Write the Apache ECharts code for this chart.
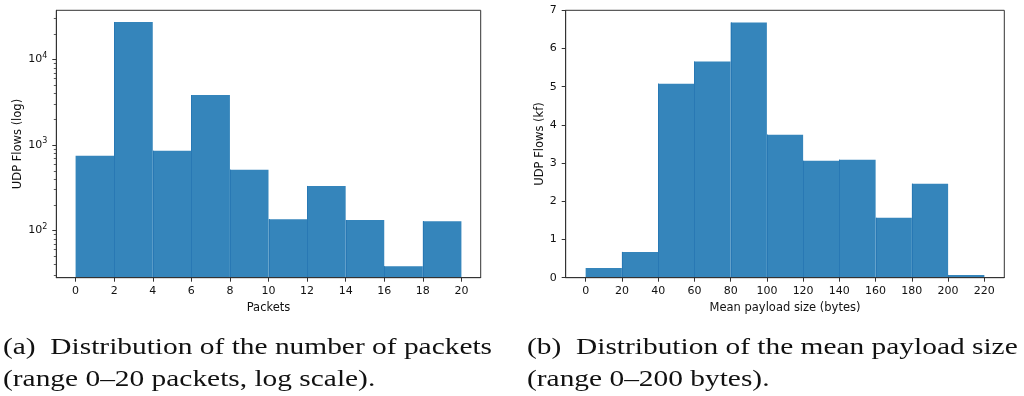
<!DOCTYPE html>
<html>
<head>
<meta charset="utf-8">
<title>UDP flow distributions</title>
<script src="https://cdn.jsdelivr.net/npm/echarts@6/dist/echarts.min.js"></script>
<style>
  html, body { margin: 0; padding: 0; background: #fff; }
  #chart { width: 1024px; height: 396px; }
</style>
</head>
<body>
<div id="chart"></div>
<script>
// (a) number of packets per UDP flow, bins of width 2 (counts, log scale)
const packetBinEdges = [0, 2, 4, 6, 8, 10, 12, 14, 16, 18, 20];
const packetCounts = [743, 27300, 851, 3820, 511, 135, 330, 132, 38, 128];
const packetTicks = [0, 2, 4, 6, 8, 10, 12, 14, 16, 18, 20];
const packetMajorTicks = [100, 1000, 10000];
const packetMinorTicks = [30, 40, 50, 60, 70, 80, 90,
  200, 300, 400, 500, 600, 700, 800, 900,
  2000, 3000, 4000, 5000, 6000, 7000, 8000, 9000,
  20000, 30000];

// (b) mean payload size per UDP flow, bins of width 20 bytes (thousands of flows)
const payloadBinEdges = [0, 20, 40, 60, 80, 100, 120, 140, 160, 180, 200, 220];
const payloadCounts = [0.255, 0.675, 5.08, 5.66, 6.68, 3.745, 3.06, 3.09, 1.567, 2.46, 0.07];
const payloadTicks = [0, 20, 40, 60, 80, 100, 120, 140, 160, 180, 200, 220];

const captionA = ['(a)  Distribution of the number of packets', '(range 0–20 packets, log scale).'];
const captionB = ['(b)  Distribution of the mean payload size', '(range 0–200 bytes).'];

const X_MIN_A = -1, X_MAX_A = 21;
const LOG_MIN = 27.9, LOG_MAX = 37400;
const BAR_FILL = '#3585bb';
const BAR_SEAM = '#2878b4';

function toBins(edges, counts) {
  return counts.map((c, i) => [edges[i], edges[i + 1], c]);
}

// one rectangle per bin, with a thin darker seam on the left edge of every bin after the first
function histRenderer(baseValue) {
  return function (params, api) {
    const top = api.coord([api.value(0), api.value(2)]);
    const bottom = api.coord([api.value(1), baseValue]);
    const children = [{
      type: 'rect',
      shape: { x: top[0], y: top[1], width: bottom[0] - top[0], height: bottom[1] - top[1] },
      style: { fill: BAR_FILL }
    }];
    if (params.dataIndex > 0) {
      const sx = Math.round(top[0]) + 0.5;
      children.push({
        type: 'line',
        shape: { x1: sx, y1: top[1], x2: sx, y2: bottom[1] },
        style: { stroke: BAR_SEAM, lineWidth: 1 }
      });
    }
    return { type: 'group', children: children };
  };
}

// short outward minor ticks on the log axis, placed through the axis scale
function minorTickRenderer(params, api) {
  const p = api.coord([X_MIN_A, api.value(1)]);
  const y = Math.round(p[1]) + 0.5;
  return {
    type: 'line',
    shape: { x1: p[0] - 2.5, y1: y, x2: p[0], y2: y },
    style: { stroke: '#333', lineWidth: 0.8 }
  };
}

const tickFont = { fontFamily: 'DejaVu Sans', fontSize: 11, color: '#111' };
const nameFont = { fontFamily: 'DejaVu Sans', fontSize: 11.5, color: '#111' };
const spine = { show: true, onZero: false, lineStyle: { color: '#333', width: 1 } };
const tick = { show: true, length: 4, lineStyle: { color: '#333', width: 1 } };

function captionLines(lines, x) {
  return lines.map((t, i) => ({
    type: 'text', x: x, y: 348 + i * 32, scaleX: 1.225,
    style: { text: t, fontFamily: 'Liberation Serif', fontSize: 24, fill: '#111',
             align: 'left', verticalAlign: 'middle' }
  }));
}

const chart = echarts.init(document.getElementById('chart'), null, { renderer: 'canvas' });

chart.setOption({
  animation: false,
  backgroundColor: '#fff',
  graphic: captionLines(captionA, 3).concat(captionLines(captionB, 527)),
  grid: [
    { left: 56.3, top: 10.3, width: 424.4, height: 267.4, show: true, borderColor: '#333', borderWidth: 1, backgroundColor: 'transparent' },
    { left: 565.7, top: 10.3, width: 438.6, height: 267.4, show: true, borderColor: '#333', borderWidth: 1, backgroundColor: 'transparent' }
  ],
  xAxis: [
    { type: 'value', gridIndex: 0, min: X_MIN_A, max: X_MAX_A, z: 5,
      name: 'Packets', nameLocation: 'middle', nameGap: 24, nameTextStyle: nameFont,
      axisLine: spine, splitLine: { show: false },
      axisTick: Object.assign({ customValues: packetTicks }, tick),
      axisLabel: Object.assign({ customValues: packetTicks, margin: 8 }, tickFont) },
    { type: 'value', gridIndex: 1, min: -11, max: 231, z: 5,
      name: 'Mean payload size (bytes)', nameLocation: 'middle', nameGap: 24, nameTextStyle: nameFont,
      axisLine: spine, splitLine: { show: false },
      axisTick: Object.assign({ customValues: payloadTicks }, tick),
      axisLabel: Object.assign({ customValues: payloadTicks, margin: 8 }, tickFont) }
  ],
  yAxis: [
    { type: 'log', logBase: 10, gridIndex: 0, position: 'left', min: LOG_MIN, max: LOG_MAX, z: 5,
      name: 'UDP Flows (log)', nameLocation: 'middle', nameGap: 32, nameTextStyle: nameFont,
      axisLine: spine, splitLine: { show: false }, minorTick: { show: false },
      axisTick: Object.assign({ customValues: packetMajorTicks }, tick),
      axisLabel: Object.assign({
        customValues: packetMajorTicks, margin: 9,
        formatter: v => '{b|10}{s|' + Math.round(Math.log10(v)) + '}',
        rich: {
          b: { fontFamily: 'DejaVu Sans', fontSize: 11, color: '#111' },
          s: { fontFamily: 'DejaVu Sans', fontSize: 8, color: '#111', padding: [0, 0, 7, 0] }
        }
      }, tickFont) },
    { type: 'value', gridIndex: 1, position: 'left', min: 0, max: 7, interval: 1, z: 5,
      name: 'UDP Flows (kf)', nameLocation: 'middle', nameGap: 20, nameTextStyle: nameFont,
      axisLine: spine, splitLine: { show: false },
      axisTick: tick,
      axisLabel: Object.assign({ margin: 9 }, tickFont) }
  ],
  series: [
    { type: 'custom', name: 'packets', xAxisIndex: 0, yAxisIndex: 0,
      renderItem: histRenderer(LOG_MIN), encode: { x: [0, 1], y: 2 },
      data: toBins(packetBinEdges, packetCounts) },
    { type: 'custom', name: 'minor ticks', xAxisIndex: 0, yAxisIndex: 0, z: 6, clip: false,
      renderItem: minorTickRenderer, encode: { x: 0, y: 1 },
      data: packetMinorTicks.map(v => [X_MIN_A, v]) },
    { type: 'custom', name: 'payload', xAxisIndex: 1, yAxisIndex: 1,
      renderItem: histRenderer(0), encode: { x: [0, 1], y: 2 },
      data: toBins(payloadBinEdges, payloadCounts) }
  ]
});
</script>
</body>
</html>
